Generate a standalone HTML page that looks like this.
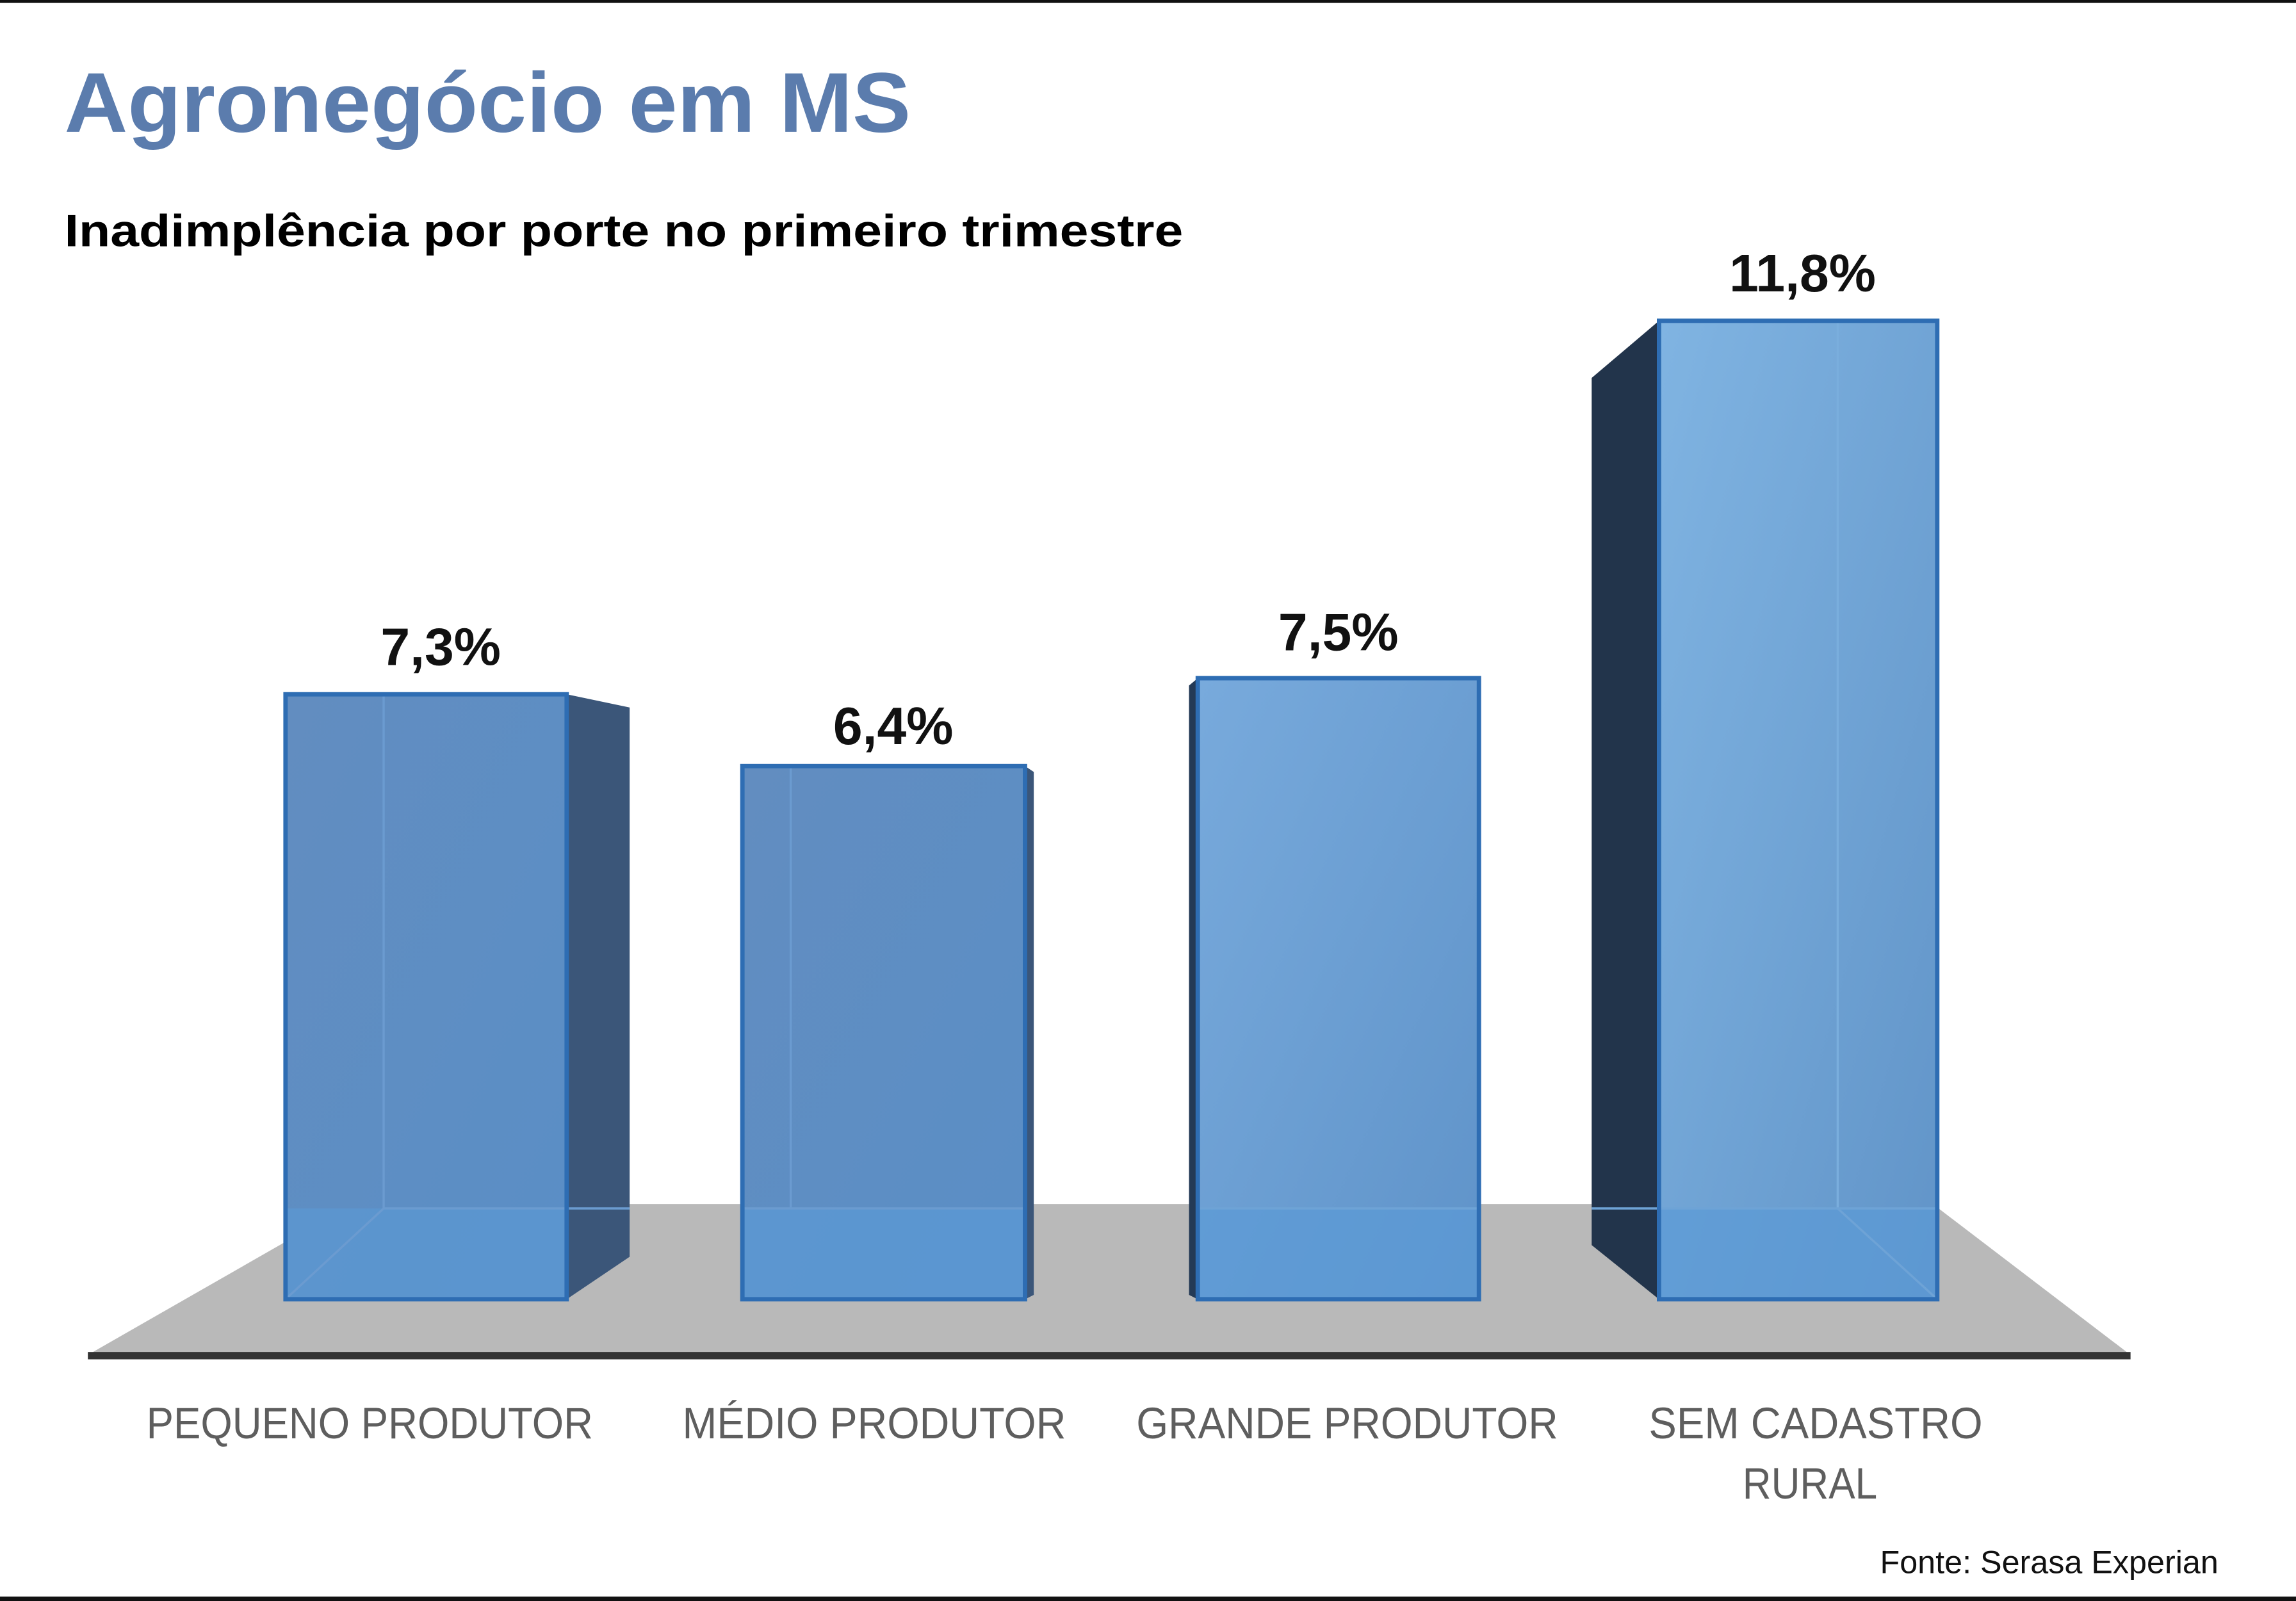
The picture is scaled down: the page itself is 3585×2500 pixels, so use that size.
<!DOCTYPE html>
<html><head><meta charset="utf-8"><style>
html,body{margin:0;padding:0;background:#fff;}
svg{display:block;}
</style></head><body>
<svg width="3585" height="2500" viewBox="0 0 1568 1093" preserveAspectRatio="none" xmlns="http://www.w3.org/2000/svg">
<defs>
<linearGradient id="g1" x1="0" y1="0" x2="1" y2="1"><stop offset="0" stop-color="#628dc0"/><stop offset="1" stop-color="#5a8ec6"/></linearGradient>
<linearGradient id="g3" x1="0" y1="0" x2="1" y2="1"><stop offset="0" stop-color="#78aadc"/><stop offset="1" stop-color="#5f93c9"/></linearGradient>
<linearGradient id="g4" x1="0" y1="0" x2="1" y2="1"><stop offset="0" stop-color="#80b4e2"/><stop offset="1" stop-color="#6194c8"/></linearGradient>
</defs>
<rect x="0" y="0" width="1568" height="2" fill="#111"/>
<rect x="0" y="1090" width="1568" height="3" fill="#111"/>
<text x="44" y="90" font-family="Liberation Sans, sans-serif" font-weight="bold" font-size="58" fill="#5b7cad" textLength="578" lengthAdjust="spacingAndGlyphs">Agronegócio em MS</text>
<text x="44" y="168" font-family="Liberation Sans, sans-serif" font-weight="bold" font-size="31" fill="#000" textLength="764" lengthAdjust="spacingAndGlyphs">Inadimplência por porte no primeiro trimestre</text>
<!-- floor -->
<polygon points="60,925 240,822 1320,822 1455,925" fill="#b9b9b9"/>
<rect x="60" y="923" width="1395" height="5" fill="#333"/>
<!-- bar1 -->
<polygon points="387,474 430,483 430,858 387,887" fill="#3b5679"/>
<rect x="195" y="474" width="192" height="413" fill="url(#g1)"/>
<rect x="195" y="825" width="192" height="62" fill="#5b98d3" opacity="0.7"/>
<line x1="262" y1="474" x2="262" y2="825" stroke="#6b9bd0" stroke-width="1.5"/>
<line x1="195" y1="887" x2="262" y2="825" stroke="#6b9bd0" stroke-width="1.5"/>
<line x1="262" y1="825" x2="430" y2="825" stroke="#6b9bd0" stroke-width="1.5"/>
<rect x="195" y="474" width="192" height="413" fill="none" stroke="#2e6db3" stroke-width="3"/>
<!-- bar2 -->
<polygon points="700,523 706,527 706,884 700,887" fill="#3b5679"/>
<rect x="507" y="523" width="193" height="364" fill="url(#g1)"/>
<rect x="507" y="825" width="193" height="62" fill="#5b9ad6" opacity="0.7"/>
<line x1="540" y1="523" x2="540" y2="825" stroke="#6b9bd0" stroke-width="1.5"/>
<line x1="507" y1="825" x2="700" y2="825" stroke="#6b9bd0" stroke-width="1.5"/>
<rect x="507" y="523" width="193" height="364" fill="none" stroke="#2e6db3" stroke-width="3"/>
<!-- bar3 -->
<polygon points="812,468 818,463 818,887 812,884" fill="#243a56"/>
<rect x="818" y="463" width="192" height="424" fill="url(#g3)"/>
<rect x="818" y="825" width="192" height="62" fill="#5b9ad6" opacity="0.7"/>
<line x1="818" y1="825" x2="1010" y2="825" stroke="#6ea3d6" stroke-width="1.5"/>
<rect x="818" y="463" width="192" height="424" fill="none" stroke="#2e6db3" stroke-width="3"/>
<!-- bar4 -->
<polygon points="1087,258 1133,219 1133,887 1087,850" fill="#22344b"/>
<rect x="1133" y="219" width="190" height="668" fill="url(#g4)"/>
<rect x="1133" y="825" width="190" height="62" fill="#5b9ad6" opacity="0.7"/>
<line x1="1255" y1="219" x2="1255" y2="825" stroke="#7aaedd" stroke-width="1.5"/>
<line x1="1087" y1="825" x2="1323" y2="825" stroke="#6ea3d6" stroke-width="1.5"/>
<line x1="1255" y1="825" x2="1323" y2="887" stroke="#6ea3d6" stroke-width="1.5"/>
<rect x="1133" y="219" width="190" height="668" fill="none" stroke="#2e6db3" stroke-width="3"/>
<!-- values -->
<g font-family="Liberation Sans, sans-serif" font-weight="bold" font-size="36" fill="#111" text-anchor="middle">
<text x="301" y="454">7,3%</text>
<text x="610" y="508">6,4%</text>
<text x="914" y="444">7,5%</text>
<text x="1231" y="199">11,8%</text>
</g>
<g font-family="Liberation Sans, sans-serif" font-size="30" fill="#5e5e5e">
<text x="100" y="982" textLength="305" lengthAdjust="spacingAndGlyphs">PEQUENO PRODUTOR</text>
<text x="466" y="982" textLength="262" lengthAdjust="spacingAndGlyphs">MÉDIO PRODUTOR</text>
<text x="776" y="982" textLength="288" lengthAdjust="spacingAndGlyphs">GRANDE PRODUTOR</text>
<text x="1126" y="982" textLength="228" lengthAdjust="spacingAndGlyphs">SEM CADASTRO</text>
<text x="1190" y="1023" textLength="92" lengthAdjust="spacingAndGlyphs">RURAL</text>
</g>
<text x="1515" y="1074" text-anchor="end" font-family="Liberation Sans, sans-serif" font-size="22" fill="#111">Fonte: Serasa Experian</text>
</svg>
</body></html>
